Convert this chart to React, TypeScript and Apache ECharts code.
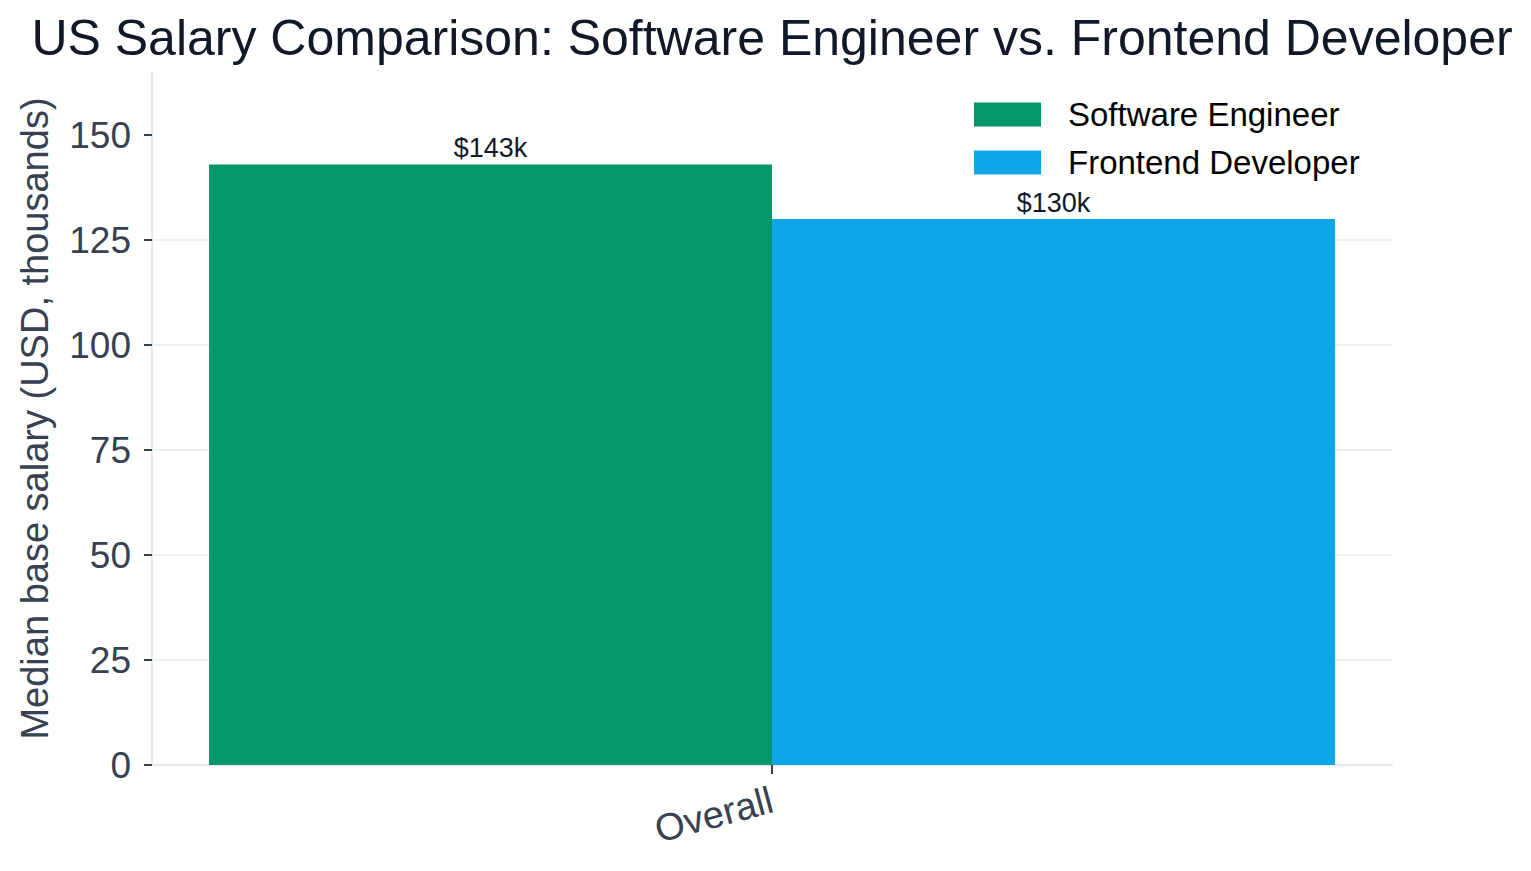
import { useRef, useEffect } from "react";
import * as echarts from "echarts";

const categories = ["Overall"];
const seriesNames = ["Software Engineer", "Frontend Developer"];
const softwareEngineer = [143];
const frontendDeveloper = [130];
const yTicks = [0, 25, 50, 75, 100, 125, 150];

const FONT = "'Liberation Sans', Arial, Helvetica, sans-serif";

export default function App() {
  const chartRef = useRef<HTMLDivElement>(null);

  useEffect(() => {
    if (!chartRef.current) return;
    const chart = echarts.init(chartRef.current, null, { renderer: "svg" });

    const label = {
      show: true,
      position: "top",
      distance: 3,
      fontSize: 27,
      fontFamily: FONT,
      color: "#111827",
      formatter: (p: { value: number }) => `$${p.value}k`,
    };

    chart.setOption({
      animation: false,
      textStyle: { fontFamily: FONT },
      title: {
        text: "US Salary Comparison: Software Engineer vs. Frontend Developer",
        left: 767,
        top: 8,
        textAlign: "center",
        textStyle: { fontSize: 50, fontWeight: "normal", color: "#111827", fontFamily: FONT },
      },
      legend: {
        data: seriesNames,
        orient: "vertical",
        left: 974,
        top: 98,
        padding: 0,
        itemWidth: 67,
        itemHeight: 24,
        itemGap: 15,
        icon: "rect",
        textStyle: { fontSize: 33, color: "#000", padding: [0, 0, 0, 22] },
      },
      grid: { left: 152, right: 139, top: 72, bottom: 106 },
      xAxis: {
        type: "category",
        data: categories,
        axisLine: { lineStyle: { color: "#e5e7eb", width: 2 } },
        axisTick: { show: true, alignWithLabel: true, customValues: [0], length: 9, lineStyle: { color: "#374151", width: 2 } },
        axisLabel: { rotate: 15, fontSize: 38, color: "#374151", margin: 34 },
      },
      yAxis: {
        type: "value",
        min: 0,
        max: 165,
        interval: 25,
        name: "Median base salary (USD, thousands)",
        nameLocation: "middle",
        nameGap: 98,
        nameTextStyle: { fontSize: 38, color: "#374151" },
        axisLine: { show: true, lineStyle: { color: "#e5e7eb", width: 2 } },
        axisTick: { show: true, length: 8, customValues: yTicks, lineStyle: { color: "#374151", width: 2 } },
        axisLabel: { fontSize: 37, color: "#374151", margin: 21, customValues: yTicks },
        splitLine: { showMaxLine: false, lineStyle: { color: "#f0f0f3", width: 2 } },
      },
      series: [
        {
          name: seriesNames[0],
          type: "bar",
          data: softwareEngineer,
          barWidth: "45.4%",
          barGap: "0%",
          itemStyle: { color: "#059669" },
          label,
        },
        {
          name: seriesNames[1],
          type: "bar",
          data: frontendDeveloper,
          barWidth: "45.4%",
          barGap: "0%",
          itemStyle: { color: "#0ea5e9" },
          label,
        },
      ],
    });

    return () => chart.dispose();
  }, []);

  return (
    <div
      ref={chartRef}
      style={{ position: "absolute", left: 0, top: 0, width: 1531, height: 871 }}
    />
  );
}
